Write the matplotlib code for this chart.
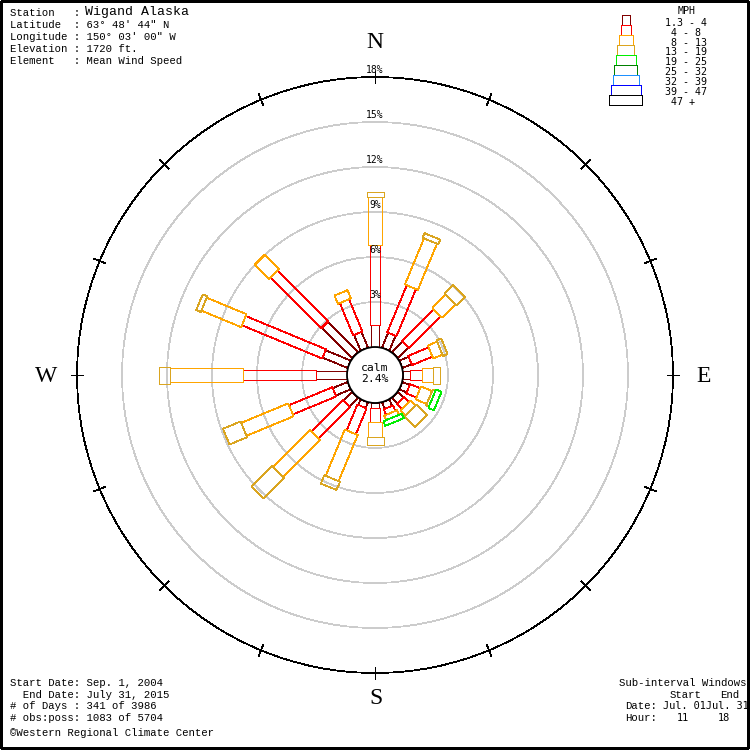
import matplotlib
matplotlib.use('Agg')
import matplotlib.pyplot as plt
import numpy as np
from matplotlib.patches import Polygon, Circle, Rectangle

# wind rose data (percent of observations), directions clockwise from N
directions = ['N', 'NNE', 'NE', 'ENE', 'E', 'ESE', 'SE', 'SSE',
              'S', 'SSW', 'SW', 'WSW', 'W', 'WNW', 'NW', 'NNW']
dir_angles = [0, 22.5, 45, 67.5, 90, 112.5, 135, 157.5,
              180, 202.5, 225, 247.5, 270, 292.5, 315, 337.5]
speed_labels = ['1.3 - 4', ' 4 - 8', ' 8 - 13', '13 - 19', '19 - 25',
                '25 - 32', '32 - 39', '39 - 47', ' 47 +']
pct_1_4 = [1.47, 1.07, 1.0, 0.67, 0.47, 0.53, 0.53, 0.47,
           0.33, 0.4, 0.8, 1.07, 2.07, 1.8, 2.87, 1.13]
pct_4_8 = [5.33, 3.4, 3.0, 1.47, 0.8, 0.73, 0.47, 0.4,
           0.93, 1.87, 3.0, 3.13, 4.87, 5.8, 4.8, 2.33]
pct_8_13 = [3.2, 3.33, 1.27, 0.67, 0.73, 0.8, 0.47, 0.33,
            1.0, 3.33, 3.47, 3.4, 4.87, 2.87, 1.33, 0.6]
pct_13_19 = [0.33, 0.33, 0.8, 0.33, 0.47, 0.2, 1.0, 0.0,
             0.53, 0.6, 1.93, 1.27, 0.73, 0.33, 0.0, 0.0]
pct_19_25 = [0, 0, 0, 0, 0, 0.4, 0, 0.33,
             0, 0, 0, 0, 0, 0, 0, 0]
calm_pct = 2.4
ring_pcts = [3, 6, 9, 12, 15, 18]

# styles
class_colors = ['#800000', '#ff0000', '#ffa500', '#daa520', '#00ee00',
                '#008000', '#1e90ff', '#0000ff', '#000000']
class_widths = [8, 10, 14, 17, 20, 23, 26, 30, 33]   # pixels
PX = 15.0            # pixels per percent
R0 = 28 / PX         # calm circle radius
AA = False
LW = 0.55

fig = plt.figure(figsize=(7.5, 7.5), dpi=100)
ax = fig.add_axes([0, 0, 1, 1])
ax.set_xlim(-25, 25)
ax.set_ylim(-25, 25)
ax.set_aspect('equal')
ax.axis('off')

# rings
for p in ring_pcts[:-1]:
    ax.add_patch(Circle((0, 0), R0 + p, fill=False, ec='#cccccc', lw=LW,
                        antialiased=AA))
ax.add_patch(Circle((0, 0), R0 + ring_pcts[-1], fill=False, ec='black',
                    lw=LW, antialiased=AA))
for p in ring_pcts:
    ax.text(0, R0 + p + 0.45, f'{p}%', ha='center', va='center',
            fontsize=7, family='DejaVu Sans Mono')

# ticks round the outer circle
rout = R0 + ring_pcts[-1]
for a in np.deg2rad(dir_angles):
    ax.plot([(rout - 0.4) * np.sin(a), (rout + 0.4) * np.sin(a)],
            [(rout - 0.4) * np.cos(a), (rout + 0.4) * np.cos(a)],
            color='black', lw=LW, antialiased=AA)

# petals
series = [pct_1_4, pct_4_8, pct_8_13, pct_13_19, pct_19_25]
base = np.zeros(len(dir_angles)) + R0
for k, vals in enumerate(series):
    hw = class_widths[k] / 2 / PX
    for i, ang in enumerate(dir_angles):
        v = vals[i]
        if v <= 0:
            continue
        t = np.deg2rad(ang)
        u = np.array([np.sin(t), np.cos(t)])
        n = np.array([np.cos(t), -np.sin(t)])
        r1, r2 = base[i], base[i] + v
        pts = [r1 * u + hw * n, r2 * u + hw * n, r2 * u - hw * n, r1 * u - hw * n]
        ax.add_patch(Polygon(pts, closed=True, fill=False,
                             ec=class_colors[k], lw=LW, antialiased=AA))
        base[i] = r2

ax.add_patch(Circle((0, 0), R0, fc='white', ec='black', lw=1.3, zorder=3))
ax.text(0, 0.45, 'calm', ha='center', va='center', fontsize=8.2,
        family='DejaVu Sans Mono', zorder=4)
ax.text(0, -0.25, f'{calm_pct}%', ha='center', va='center', fontsize=8.2,
        family='DejaVu Sans Mono', zorder=4)

# overlay in pixel coordinates for texts and legend
lx = fig.add_axes([0, 0, 1, 1], facecolor='none')
lx.set_xlim(0, 750)
lx.set_ylim(750, 0)
lx.axis('off')

lx.add_patch(Rectangle((1, 1), 747, 747, fill=False, ec='black', lw=1.0,
                       antialiased=AA))

serif_kw = dict(family='Liberation Serif', fontsize=17, ha='center', va='center')
lx.text(375, 42, 'N', **serif_kw)
lx.text(46, 376, 'W', **serif_kw)
lx.text(704, 376, 'E', **serif_kw)
lx.text(376, 699, 'S', **serif_kw)

mono = dict(family='Liberation Mono', fontsize=7.7, ha='left', va='center')
lx.text(10, 13, 'Station   :', **mono)
lx.text(85, 12, 'Wigand Alaska', family='Liberation Mono', fontsize=9.5,
        ha='left', va='center')
head_lines = ['Latitude  : 63° 48\' 44" N',
              'Longitude : 150° 03\' 00" W',
              'Elevation : 1720 ft.',
              'Element   : Mean Wind Speed']
for j, s in enumerate(head_lines):
    lx.text(10, 24.5 + 12 * j, s, **mono)

foot_lines = ['Start Date: Sep. 1, 2004',
              '  End Date: July 31, 2015',
              '# of Days : 341 of 3986',
              '# obs:poss: 1083 of 5704']
for j, s in enumerate(foot_lines):
    lx.text(10, 683 + 11.7 * j, s, **mono)
lx.text(10, 733, '©Western Regional Climate Center', **mono)

lx.text(619, 683, 'Sub-interval Windows', **mono)
lx.text(670, 695, 'Start', **mono)
lx.text(720, 695, 'End', **mono)
lx.text(625, 706, 'Date:', **mono)
lx.text(625, 718, 'Hour:', **mono)
small = dict(family='DejaVu Sans Mono', fontsize=7.4, ha='left', va='center')
lx.text(663, 706, 'Jul. 01Jul. 31', **small)
lx.text(677, 718, '11', **small)
lx.text(718, 718, '18', **small)

# legend
lx.text(687, 11, 'MPH', family='DejaVu Sans Mono', fontsize=7.2,
        ha='center', va='center')
for k, lab in enumerate(speed_labels):
    w = class_widths[k]
    lx.add_patch(Rectangle((625.5 - w / 2, 15 + 10 * k), w, 10, fill=False,
                           ec=class_colors[k], lw=LW, antialiased=AA))
    lx.text(665, 22.7 + 9.9 * k, lab, family='DejaVu Sans Mono', fontsize=7.2,
            ha='left', va='center')

fig.savefig('out.png', dpi=100)
